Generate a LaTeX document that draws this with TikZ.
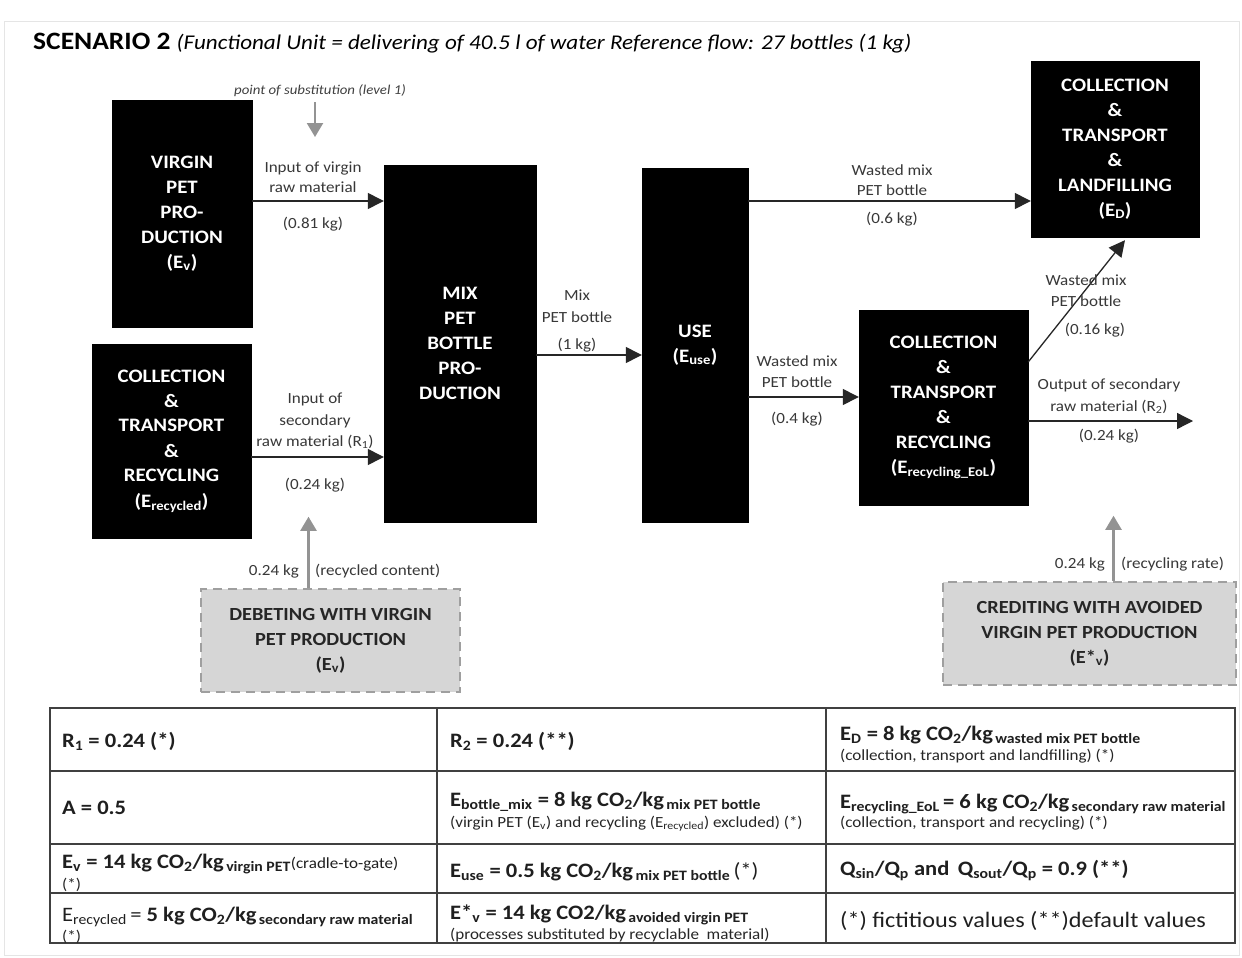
\documentclass[tikz,border=0pt]{standalone}
\usepackage{fontspec}
\setmainfont{Carlito}[FakeStretch=1.1]
\usetikzlibrary{arrows.meta}
\newcommand{\sbx}[1]{\textsubscript{#1}}
\begin{document}
\begin{tikzpicture}[x=1pt,y=-1pt,
  blk/.style={fill=black, draw=black, text=white, font=\bfseries\fontsize{19}{25}\selectfont, align=center, inner sep=0pt},
  lbl/.style={font=\fontsize{15.5}{20}\selectfont, text=black!78, inner sep=0pt, anchor=base},
  flow/.style={-{Triangle[length=16pt,width=16pt]}, line width=1.3pt, draw=black!85},
  garrow/.style={-{Triangle[length=14pt,width=16pt]}, line width=2.2pt, draw=gray!85},
  dbox/.style={fill=black!16, draw=gray!75, dash pattern=on 9pt off 6pt, line width=2.5pt, text=black!85, font=\bfseries\fontsize{18.5}{25}\selectfont, align=center, inner sep=0pt},
  tbig/.style={font=\bfseries\fontsize{20.5}{24}\selectfont, text=black!88, inner sep=0pt, anchor=base west},
  tsmall/.style={font=\fontsize{15.5}{18}\selectfont, text=black!85, inner sep=0pt, anchor=base west},
  grid/.style={draw=black!75, line width=1.2pt}
]
\useasboundingbox (0,0) rectangle (1242,958);
\fill[white] (0,0) rectangle (1242,958);
\draw[gray!20, line width=1pt] (4,22) rectangle (1239,955);

% title
\node[inner sep=0pt, anchor=base west] (title) at (33,50) {\fontsize{25}{28}\selectfont\textbf{SCENARIO 2} \fontsize{21}{26}\selectfont\textit{(Functional Unit = delivering of 40.5 l of water Reference flow: 27 bottles (1 kg)}};

% black boxes
\node[blk, minimum width=140pt, minimum height=227pt] (vpp) at (182,213.5) {VIRGIN\\PET\\PRO-\\DUCTION\\(E\sbx{v})};
\node[blk, minimum width=159pt, minimum height=194pt] (rec) at (171.5,441) {COLLECTION\\\&\\TRANSPORT\\\&\\RECYCLING\\(E\sbx{recycled})};
\node[blk, minimum width=152pt, minimum height=357pt] (mix) at (460,343.5) {MIX\\PET\\BOTTLE\\PRO-\\DUCTION};
\node[blk, minimum width=106pt, minimum height=354pt] (use) at (695,345) {USE\\(E\sbx{use})};
\node[blk, minimum width=168pt, minimum height=176pt] (lf) at (1115,149) {COLLECTION\\\&\\TRANSPORT\\\&\\LANDFILLING\\(E\sbx{D})};
\node[blk, minimum width=169pt, minimum height=195pt] (eol) at (943.5,407.5) {COLLECTION\\\&\\TRANSPORT\\\&\\RECYCLING\\(E\sbx{recycling\_EoL})};

% dashed boxes
\node[dbox, minimum width=259pt, minimum height=103pt] (deb) at (330.5,640.5) {DEBETING WITH VIRGIN\\PET PRODUCTION\\(E\sbx{v})};
\node[dbox, minimum width=293pt, minimum height=103pt] (cred) at (1089.5,633.5) {CREDITING WITH AVOIDED\\VIRGIN PET PRODUCTION\\(E*\sbx{v})};

% flow arrows
\coordinate (a1) at ([yshift=12.5pt]vpp.east);
\draw[flow] (a1) -- (a1 -| mix.west);
\coordinate (a2) at ([yshift=-16pt]rec.east);
\draw[flow] (a2) -- (a2 -| mix.west);
\coordinate (a3) at ([yshift=-11.5pt]mix.east);
\draw[flow] (a3) -- (a3 -| use.west);
\coordinate (a4) at ([yshift=144pt]use.east);
\draw[flow] (a4) -- (a4 -| lf.west);
\coordinate (a5) at ([yshift=-52pt]use.east);
\draw[flow] (a5) -- (a5 -| eol.west);
\draw[flow] ([yshift=45.5pt]eol.east) -- ([xshift=10pt,yshift=-3pt]lf.south);
\coordinate (a7) at ([yshift=-13.5pt]eol.east);
\coordinate (outend) at (1193,421);
\draw[flow] (a7) -- (outend);

% flow labels
\node[lbl] (l11) at (313,172) {Input of virgin};
\node[lbl] (l12) at (313,192) {raw material};
\node[lbl] (l13) at (313,228) {(0.81 kg)};
\node[lbl] (l21) at (315,403) {Input of};
\node[lbl] (l22) at (315,425) {secondary};
\node[lbl] (l23) at (315,446) {raw material (R\sbx{1})};
\node[lbl] (l24) at (315,489) {(0.24 kg)};
\node[lbl] (l31) at (577,300) {Mix};
\node[lbl] (l32) at (577,322) {PET bottle};
\node[lbl] (l33) at (577,349) {(1 kg)};
\node[lbl] (l41) at (892,175) {Wasted mix};
\node[lbl] (l42) at (892,195) {PET bottle};
\node[lbl] (l43) at (892,223) {(0.6 kg)};
\node[lbl] (l51) at (797,366) {Wasted mix};
\node[lbl] (l52) at (797,387) {PET bottle};
\node[lbl] (l53) at (797,423) {(0.4 kg)};
\node[lbl] (l61) at (1086,285) {Wasted mix};
\node[lbl] (l62) at (1086,306) {PET bottle};
\node[lbl] (l63) at (1095,334) {(0.16 kg)};
\node[lbl] (l71) at (1109,389) {Output of secondary};
\node[lbl] (l72) at (1109,411) {raw material (R\sbx{2})};
\node[lbl] (l73) at (1109,440) {(0.24 kg)};

% gray arrows
\node[inner sep=0pt, anchor=base, font=\itshape\fontsize{13.5}{16}\selectfont, text=black!75] (pos) at (320,94) {point of substitution (level 1)};
\coordinate (posend) at (315,137);
\draw[garrow] (posend |- 0,102) -- (posend);
\draw[garrow] ([xshift=-22pt]deb.north) -- ++(0,-71);
\draw[garrow] ([xshift=24pt]cred.north) -- ++(0,-65);
\node[lbl, anchor=base east] (g1) at (299,575) {0.24 kg};
\node[lbl, anchor=base west] (g2) at (315,575) {(recycled content)};
\node[lbl, anchor=base east] (g3) at (1105,568) {0.24 kg};
\node[lbl, anchor=base west] (g4) at (1121,568) {(recycling rate)};

% table
\draw[grid] (50,708) rectangle (1235,943);
\draw[grid] (437,708) -- (437,943);
\draw[grid] (826,708) -- (826,943);
\draw[grid] (50,771) -- (1235,771);
\draw[grid] (50,844) -- (1235,844);
\draw[grid] (50,893) -- (1235,893);

\node[tbig] (t11) at (62,747) {R\sbx{1} = 0.24 (*)};
\node[tbig] (t21) at (62,814) {A = 0.5};
\node[tbig] (t31) at (62,868) {E\sbx{v} = 14 kg CO\sbx{2}/kg\sbx{\,virgin PET}\mdseries\fontsize{15.5}{18}\selectfont(cradle-to-gate)};
\node[tsmall] (t32) at (62,889) {(*)};
\node[tbig] (t41) at (62,921) {\mdseries E\sbx{recycled}\,= \bfseries 5 kg CO\sbx{2}/kg\sbx{\,secondary raw material}};
\node[tsmall] (t42) at (62,941) {(*)};

\node[tbig] (t12) at (450,747) {R\sbx{2} = 0.24 (**)};
\node[tbig] (t22) at (450,806) {E\sbx{bottle\_mix} = 8 kg CO\sbx{2}/kg\sbx{\,mix PET bottle}};
\node[tsmall] (t22b) at (450,827) {(virgin PET (E\sbx{v}) and recycling (E\sbx{recycled}) excluded) (*)};
\node[tbig] (t23) at (450,877) {E\sbx{use} = 0.5 kg CO\sbx{2}/kg\sbx{\,mix PET bottle}\mdseries\,(*)};
\node[tbig] (t24) at (450,919) {E*\sbx{v} = 14 kg CO2/kg\sbx{\,avoided virgin PET}};
\node[tsmall] (t24b) at (450,939) {(processes substituted by recyclable\enspace material)};

\node[tbig] (t13) at (840,740) {E\sbx{D} = 8 kg CO\sbx{2}/kg\sbx{\,wasted mix PET bottle}};
\node[tsmall] (t13b) at (840,760) {(collection, transport and landfilling) (*)};
\node[tbig] (t33) at (840,808) {E\sbx{recycling\_EoL}\,= 6 kg CO\sbx{2}/kg\sbx{\,secondary raw material}};
\node[tsmall] (t33b) at (840,827) {(collection, transport and recycling) (*)};
\node[tbig] (t43) at (840,875) {Q\sbx{sin}/Q\sbx{p} and\, Q\sbx{sout}/Q\sbx{p} = 0.9 (**)};
\node[tbig, font=\fontsize{22}{26}\selectfont] (t53) at (840,927) {(*) fictitious values (**)default values};
\end{tikzpicture}
\end{document}
